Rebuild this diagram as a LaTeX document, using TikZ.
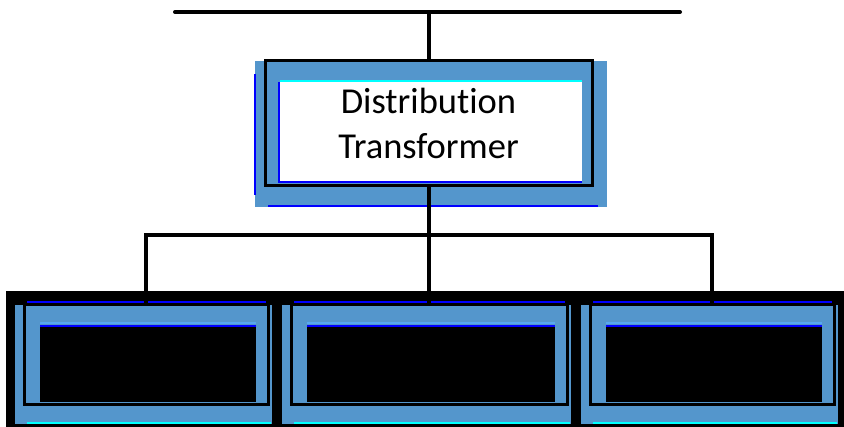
\documentclass[tikz,border=0pt]{standalone}
\usepackage{fontspec}
\setmainfont{Carlito}[Ligatures=NoCommon]
\definecolor{frameblue}{RGB}{84,150,204}
\definecolor{lightstripe}{RGB}{88,168,240}
\definecolor{pureblue}{RGB}{0,0,255}
\definecolor{brightcyan}{RGB}{0,255,255}
\begin{document}
\begin{tikzpicture}[x=1pt,y=-1pt,
  conn/.style={draw=black,line width=4pt},
  outline/.style={draw=black,line width=3pt,rectangle,inner sep=0pt},
  bandfill/.style={fill=black},
  framefill/.style={fill=frameblue},
  edgeblue/.style={draw=pureblue,line width=2pt},
  edgecyan/.style={draw=brightcyan,line width=2pt},
  stripe/.style={draw=lightstripe,line width=2pt}]
\useasboundingbox (0,0) rectangle (844,427);
% black band behind the lower boxes
\fill[bandfill] (6,291) rectangle (844,427);
% transformer frame
\fill[framefill] (255,61) rectangle (607,207);
\fill[white] (280,82) rectangle (582,182);
\draw[edgecyan] (280,81) -- (582,81);
\draw[edgeblue] (279,82) -- (279,182) -- (582,182);
\draw[edgeblue] (268,206) -- (598,206);
\draw[edgeblue] (255,74) -- (255,195);
% lower frames
\foreach \xa/\xb in {24/268, 291/567, 590/834}{
  \fill[framefill] (\xa-9,305) rectangle (\xb+4,424);
  \draw[stripe] (\xa+16,323) -- (\xb-12,323);
  \fill[black] (\xa+16,327) rectangle (\xb-12,402);
  \draw[edgeblue] (\xa+16,326) -- (\xb-12,326);
  \draw[edgeblue] (\xa+3,302) -- (\xb-2,302);
  \draw[edgecyan] (\xa+3,423) -- (\xb+3,423);
}
% nodes
\node[outline,minimum width=327pt,minimum height=125pt,align=center,
      font=\fontsize{36.5}{45}\selectfont] (tr) at (428.5,123.5)
      {Distribution\\Transformer};
\node[outline,minimum width=244pt,minimum height=100pt] (b1) at (146,355) {};
\node[outline,minimum width=276pt,minimum height=100pt] (b2) at (429,355) {};
\node[outline,minimum width=244pt,minimum height=100pt] (b3) at (712,355) {};
% connectors
\coordinate (busL) at (175,12);
\coordinate (busR) at (680,12);
\coordinate (jn) at (430,235);
\draw[conn,line cap=round] (busL) -- (busR);
\draw[conn] (tr.north) -- (tr.north |- busL);
\draw[conn] (tr.south) -- (tr.south |- jn);
\draw[conn] (b1.north) |- (jn) -| (b3.north);
\draw[conn] (b2.north) -- (b2.north |- jn);
\end{tikzpicture}
\end{document}
